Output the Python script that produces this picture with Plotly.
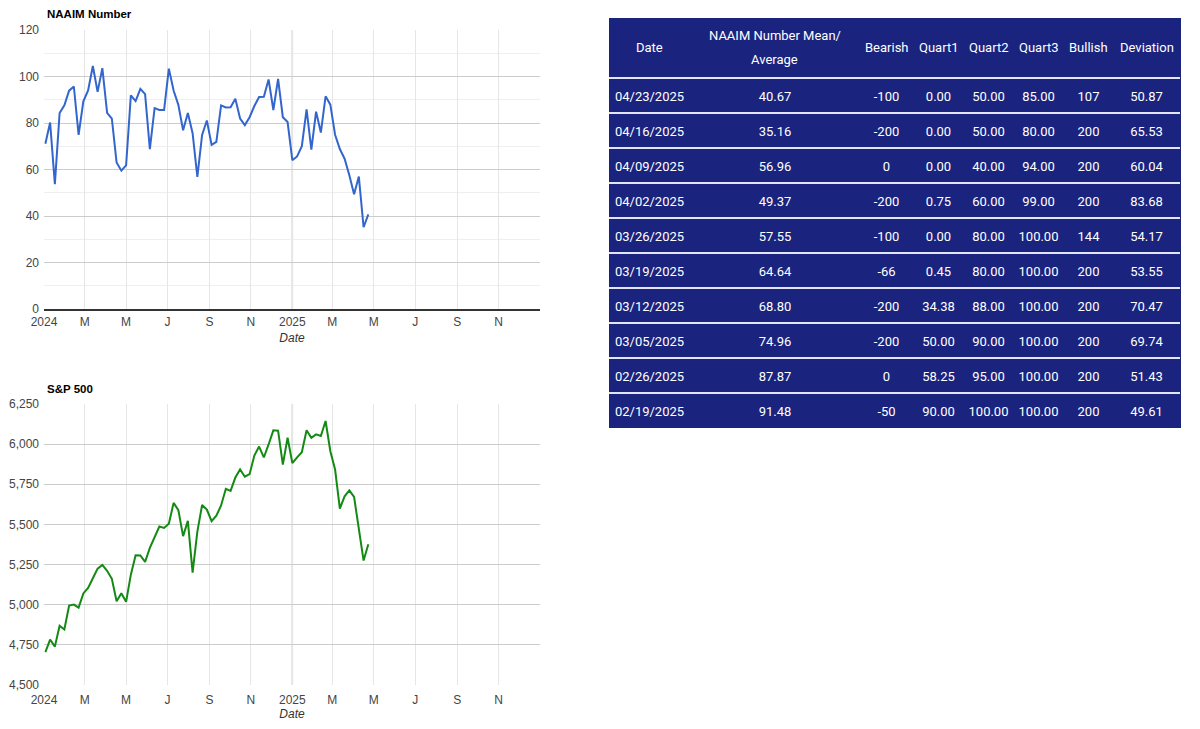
import plotly.graph_objects as go

# weekly survey dates (Wednesdays)
dates = [
    "2024-01-03", "2024-01-10", "2024-01-17", "2024-01-24", "2024-01-31",
    "2024-02-07", "2024-02-14", "2024-02-21", "2024-02-28",
    "2024-03-06", "2024-03-13", "2024-03-20", "2024-03-27",
    "2024-04-03", "2024-04-10", "2024-04-17", "2024-04-24",
    "2024-05-01", "2024-05-08", "2024-05-15", "2024-05-22", "2024-05-29",
    "2024-06-05", "2024-06-12", "2024-06-19", "2024-06-26",
    "2024-07-03", "2024-07-10", "2024-07-17", "2024-07-24", "2024-07-31",
    "2024-08-07", "2024-08-14", "2024-08-21", "2024-08-28",
    "2024-09-04", "2024-09-11", "2024-09-18", "2024-09-25",
    "2024-10-02", "2024-10-09", "2024-10-16", "2024-10-23", "2024-10-30",
    "2024-11-06", "2024-11-13", "2024-11-20", "2024-11-27",
    "2024-12-04", "2024-12-11", "2024-12-18", "2024-12-25",
    "2025-01-01", "2025-01-08", "2025-01-15", "2025-01-22", "2025-01-29",
    "2025-02-05", "2025-02-12", "2025-02-19", "2025-02-26",
    "2025-03-05", "2025-03-12", "2025-03-19", "2025-03-26",
    "2025-04-02", "2025-04-09", "2025-04-16", "2025-04-23",
]

naaim = [
    71.1, 80.2, 53.7, 84.3, 87.6, 93.9, 95.7, 74.9, 89.3, 94.0,
    104.5, 93.4, 103.6, 84.4, 81.9, 63.0, 59.5, 61.8, 91.9, 89.4,
    94.7, 92.4, 68.8, 86.4, 85.6, 85.6, 103.4, 94.0, 87.8, 76.9,
    84.3, 75.6, 56.8, 74.9, 81.1, 70.6, 71.9, 87.6, 86.7, 86.8,
    90.4, 81.9, 79.1, 82.5, 87.3, 91.2, 91.3, 98.7, 85.6, 99.0,
    82.5, 80.4,
    64.0, 65.6, 70.0, 85.9, 68.6, 84.9, 75.9, 91.48, 87.87, 74.96,
    68.80, 64.64, 57.55, 49.37, 56.96, 35.16, 40.67,
]

sp500 = [
    4705, 4783, 4739, 4869, 4846, 4995, 5001, 4982, 5070, 5105,
    5165, 5225, 5248, 5211, 5161, 5022, 5072, 5018, 5187, 5308,
    5307, 5267, 5354, 5421, 5487, 5478, 5505, 5634, 5589, 5427,
    5522, 5200, 5455, 5621, 5592, 5520, 5554, 5618, 5722, 5709,
    5792, 5842, 5797, 5813, 5929, 5985, 5917, 5998, 6086, 6084,
    5872, 6040,
    5882, 5918, 5950, 6086, 6039, 6061, 6051, 6144, 5956, 5842,
    5599, 5675, 5712, 5671, 5457, 5275, 5376,
]

tick_dates = ["2024-01-01", "2024-03-01", "2024-05-01", "2024-07-01", "2024-09-01", "2024-11-01",
              "2025-01-01", "2025-03-01", "2025-05-01", "2025-07-01", "2025-09-01", "2025-11-01"]
tick_labels = ["2024", "M", "M", "J", "S", "N", "2025", "M", "M", "J", "S", "N"]

# table of recent readings
tbl_date = ["04/23/2025", "04/16/2025", "04/09/2025", "04/02/2025", "03/26/2025",
            "03/19/2025", "03/12/2025", "03/05/2025", "02/26/2025", "02/19/2025"]
tbl_mean = [40.67, 35.16, 56.96, 49.37, 57.55, 64.64, 68.80, 74.96, 87.87, 91.48]
tbl_bearish = [-100, -200, 0, -200, -100, -66, -200, -200, 0, -50]
tbl_q1 = [0.00, 0.00, 0.00, 0.75, 0.00, 0.45, 34.38, 50.00, 58.25, 90.00]
tbl_q2 = [50.00, 50.00, 40.00, 60.00, 80.00, 80.00, 88.00, 90.00, 95.00, 100.00]
tbl_q3 = [85.00, 80.00, 94.00, 99.00, 100.00, 100.00, 100.00, 100.00, 100.00, 100.00]
tbl_bullish = [107, 200, 200, 200, 144, 200, 200, 200, 200, 200]
tbl_dev = [50.87, 65.53, 60.04, 83.68, 54.17, 53.55, 70.47, 69.74, 51.43, 49.61]
tbl_header = [["Date"], ["NAAIM Number Mean/", "Average"], ["Bearish"], ["Quart1"], ["Quart2"],
              ["Quart3"], ["Bullish"], ["Deviation"]]

# page has an 8px body margin, so the figure is 8px smaller and positions are shifted
OFF = 8
W, H = 1200 - OFF, 729 - OFF


def fx(p):
    return (p - OFF) / W


def fy(p):
    return 1 - (p - OFF) / H


navy = "#1a237e"
chart_font = "Liberation Sans, Arial, sans-serif"
tbl_font = "Roboto"

# table geometry (pixels in the page)
tbl_left, tbl_right, tbl_top = 609, 1180, 18
header_h, row_h, pad = 60, 35, 5
col_w = [81, 170, 53, 51, 49, 51, 49, 67]
tbl_bottom = tbl_top + header_h + row_h * len(tbl_date)

fig = go.Figure()

fig.add_trace(go.Scatter(x=dates, y=naaim, mode="lines", line=dict(color="#3366cc", width=2),
                         xaxis="x", yaxis="y", showlegend=False))
fig.add_trace(go.Scatter(x=dates, y=sp500, mode="lines", line=dict(color="#148a14", width=2),
                         xaxis="x2", yaxis="y2", showlegend=False))

fig.add_trace(go.Table(
    domain=dict(x=[fx(tbl_left), fx(tbl_right)], y=[fy(tbl_bottom + pad), fy(tbl_top)]),
    columnwidth=col_w,
    header=dict(values=[""] * len(tbl_header), fill_color=navy, line=dict(color=navy, width=1),
                height=header_h + pad),
    cells=dict(values=[tbl_date, tbl_mean, tbl_bearish, tbl_q1, tbl_q2, tbl_q3, tbl_bullish, tbl_dev],
               format=[None, ".2f", "d", ".2f", ".2f", ".2f", "d", ".2f"],
               fill_color=navy, line=dict(color=navy, width=1),
               font=dict(color="white", size=13, family=tbl_font), align="center", height=row_h),
))


def x_axis(label_gap, title_gap):
    return dict(type="date", range=["2024-01-01", "2026-01-01"], tickvals=tick_dates, ticktext=tick_labels,
                showgrid=True, gridcolor="#e6e6e6", gridwidth=1, zeroline=False, automargin=False,
                ticklabelstandoff=label_gap,
                tickfont=dict(size=12, color="#444", family=chart_font),
                title=dict(text="Date", font=dict(size=12, color="#333", family=chart_font, style="italic"),
                           standoff=title_gap))


fig.update_layout(
    width=W, height=H, margin=dict(l=0, r=0, t=0, b=0, autoexpand=False),
    paper_bgcolor="white", plot_bgcolor="white",
    xaxis=dict(domain=[fx(44), fx(540)], anchor="y", showline=True, linecolor="#333", linewidth=1.5,
               **x_axis(1, 5)),
    yaxis=dict(domain=[fy(309), fy(30)], anchor="x", range=[0, 120], dtick=20,
               showgrid=True, gridcolor="#cccccc", zeroline=False, automargin=False,
               minor=dict(dtick=10, showgrid=True, gridcolor="#efefef"),
               tickfont=dict(size=12, color="#444", family=chart_font), ticklabelstandoff=4),
    xaxis2=dict(domain=[fx(44), fx(540)], anchor="y2", showline=False, **x_axis(6, 3)),
    yaxis2=dict(domain=[fy(685), fy(404)], anchor="x2", range=[4500, 6250], dtick=250,
                tickformat=",", showgrid=True, gridcolor="#cccccc", zeroline=False, automargin=False,
                tickfont=dict(size=12, color="#444", family=chart_font), ticklabelstandoff=4),
)

# darker year boundary line
for xr, yr in (("x", "y domain"), ("x2", "y2 domain")):
    fig.add_shape(type="line", xref=xr, yref=yr, x0="2025-01-01", x1="2025-01-01", y0=0, y1=1,
                  line=dict(color="#c8c8c8", width=1.5), layer="below")

# chart titles
fig.add_annotation(text="<b>NAAIM Number</b>", xref="paper", yref="paper", x=fx(45), y=fy(14),
                   xanchor="left", yanchor="middle", showarrow=False,
                   font=dict(size=11.5, color="#000", family=chart_font))
fig.add_annotation(text="<b>S&P 500</b>", xref="paper", yref="paper", x=fx(45), y=fy(389),
                   xanchor="left", yanchor="middle", showarrow=False,
                   font=dict(size=11.5, color="#000", family=chart_font))

# table header labels, vertically centred in the header row (24px line spacing)
x_cursor = tbl_left
for lines, w in zip(tbl_header, col_w):
    cx = x_cursor + w / 2
    x_cursor += w
    n = len(lines)
    for k, txt in enumerate(lines):
        cy = tbl_top + header_h / 2 + (k - (n - 1) / 2) * 24
        fig.add_annotation(text=txt, xref="paper", yref="paper", x=fx(cx), y=fy(cy),
                           xanchor="center", yanchor="middle", showarrow=False,
                           font=dict(size=13, color="white", family=tbl_font))

# white separators between table rows
for i in range(len(tbl_date)):
    yy = fy(tbl_top + header_h + i * row_h)
    fig.add_shape(type="line", xref="paper", yref="paper", x0=fx(tbl_left), x1=fx(tbl_right), y0=yy, y1=yy,
                  line=dict(color="#e3e5f5", width=2))

# trim the extra padding below the last row
fig.add_shape(type="rect", xref="paper", yref="paper", x0=fx(tbl_left - 2), x1=fx(tbl_right + 2),
              y0=fy(tbl_bottom + pad + 2), y1=fy(tbl_bottom), fillcolor="white", line=dict(width=0))

fig.write_html("out.html")
